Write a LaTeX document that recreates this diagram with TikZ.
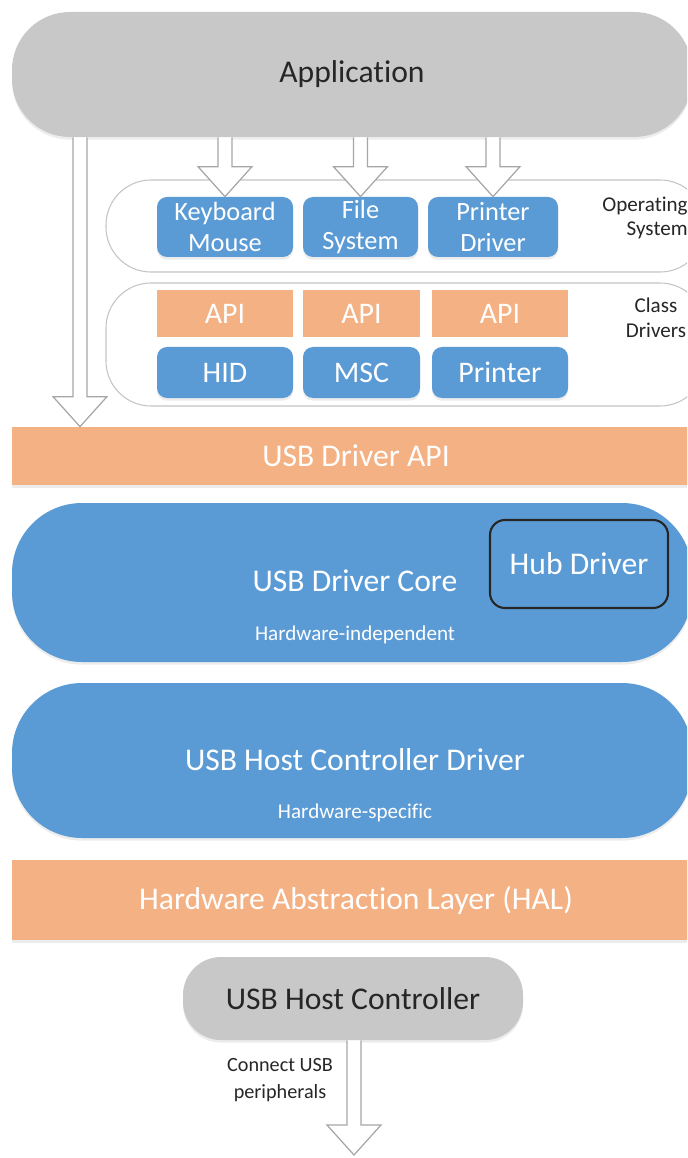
\documentclass[tikz,border=0pt]{standalone}
\usepackage{fontspec}
\setmainfont{Carlito}[Ligatures=NoCommon]
\usetikzlibrary{calc,shadows}
\definecolor{appgray}{HTML}{C8C8C8}
\definecolor{usbblue}{HTML}{5B9BD5}
\definecolor{usborange}{HTML}{F4B183}
\definecolor{rimgray}{HTML}{C4C4C4}
\newcommand{\px}{0.02cm}
% hollow block arrow from a shaft top (#1) down to a tip (#2)
\newcommand{\hollowarrow}[2]{%
  \draw[hollow] ($(#1)+(-7,0)$) -- ($(#2)+(-7,-30)$) -- ($(#2)+(-27,-30)$) -- (#2)
    -- ($(#2)+(27,-30)$) -- ($(#2)+(7,-30)$) -- ($(#1)+(7,0)$);}
\tikzset{
  soft/.style={drop shadow={opacity=0.15,shadow xshift=0pt,shadow yshift=-1.5pt}},
  graypill/.style={fill=appgray,rounded corners=#1*\px,soft,text=black!85,inner sep=0pt},
  bluepill/.style={fill=usbblue,rounded corners=#1*\px,soft,text=white,inner sep=0pt},
  orangebar/.style={fill=usborange,soft,text=white,inner sep=0pt,font=\fontsize{18}{20}\selectfont},
  shell/.style={fill=white,draw=rimgray,line width=0.6pt,rounded corners=45*\px,inner sep=0pt},
  bluebox/.style={fill=usbblue,rounded corners=10*\px,soft,text=white,inner sep=0pt,align=center},
  apibox/.style={fill=usborange,text=white,inner sep=0pt,font=\fontsize{17}{19}\selectfont},
  tag/.style={text=black!85,inner sep=0pt,font=\fontsize{12}{14}\selectfont},
  hollow/.style={fill=white,draw=gray!70,line width=0.7pt,line join=miter}
}
\begin{document}
\begin{tikzpicture}[x=\px,y=-\px]
\path[use as bounding box,clip] (0,0) rectangle (687,1158);

% application and operating system
\node[graypill=58, minimum width=680*\px, minimum height=125*\px,
  font=\fontsize{18}{20}\selectfont] (app) at (352,74.5) {Application};
\node[shell, minimum width=599*\px, minimum height=92*\px] (os) at (405.5,226) {};
\node[bluebox, minimum width=136*\px, minimum height=60*\px,
  font=\fontsize{15}{17.5}\selectfont] (kbd) at (225,227) {Keyboard\\Mouse};
\node[bluebox, minimum width=115*\px, minimum height=60*\px,
  font=\fontsize{15}{17.5}\selectfont] (fs) at (360.5,227) {File\\System};
\node[bluebox, minimum width=130*\px, minimum height=60*\px,
  font=\fontsize{15}{17.5}\selectfont] (prd) at (493,227) {Printer\\Driver};
\node[tag, anchor=east, align=right] (oslabel) at (688,218) {Operating\\System};

% class drivers
\node[shell, minimum width=599*\px, minimum height=123*\px] (cd) at (405.5,344.5) {};
\node[apibox, minimum width=136*\px, minimum height=47*\px] (api1) at (225,313.5) {API};
\node[apibox, minimum width=117*\px, minimum height=47*\px] (api2) at (361.5,313.5) {API};
\node[apibox, minimum width=136*\px, minimum height=47*\px] (api3) at (500,313.5) {API};
\node[bluebox, minimum width=136*\px, minimum height=51*\px,
  font=\fontsize{17}{19}\selectfont] (hid) at (225,372.5) {HID};
\node[bluebox, minimum width=117*\px, minimum height=51*\px,
  font=\fontsize{17}{19}\selectfont] (msc) at (361.5,372.5) {MSC};
\node[bluebox, minimum width=136*\px, minimum height=51*\px,
  font=\fontsize{17}{19}\selectfont] (prn) at (500,372.5) {Printer};
\node[tag, align=center] (cdlabel) at (656,318) {Class\\Drivers};

% usb stack
\node[orangebar, minimum width=688*\px, minimum height=58*\px] (usbapi) at (356,456) {USB Driver API};
\node[bluepill=70, minimum width=680*\px, minimum height=159*\px] (core) at (352,582.5) {};
\node[text=white, font=\fontsize{18}{20}\selectfont] (coretitle) at (355,581) {USB Driver Core};
\node[text=white, font=\fontsize{12}{14}\selectfont] (coresub) at (355,635) {Hardware-independent};
\node[fill=usbblue, draw=black!85, line width=1.2pt, rounded corners=15*\px, text=white,
  minimum width=178*\px, minimum height=88*\px, font=\fontsize{18}{20}\selectfont] (hub) at (579,564) {Hub Driver};
\node[bluepill=70, minimum width=680*\px, minimum height=155*\px] (hcd) at (352,760.5) {};
\node[text=white, font=\fontsize{18}{20}\selectfont] (hcdtitle) at (355,760) {USB Host Controller Driver};
\node[text=white, font=\fontsize{12}{14}\selectfont] (hcdsub) at (355,813) {Hardware-specific};
\node[orangebar, minimum width=688*\px, minimum height=80*\px] (hal) at (356,900) {Hardware Abstraction Layer (HAL)};
\node[graypill=38, minimum width=340*\px, minimum height=83*\px,
  font=\fontsize{18}{20}\selectfont] (hc) at (353,998.5) {USB Host Controller};

% arrows
\coordinate (bypass) at (80,0);
\coordinate (periph) at (354,1155);
\coordinate (a0) at (app.south -| bypass);
\coordinate (a1) at (app.south -| kbd.north);
\coordinate (a2) at (app.south -| fs.north);
\coordinate (a3) at (app.south -| prd.north);
\coordinate (a4) at (hc.south -| periph);
\hollowarrow{a0}{usbapi.north -| bypass}
\hollowarrow{a1}{kbd.north}
\hollowarrow{a2}{fs.north}
\hollowarrow{a3}{prd.north}
\hollowarrow{a4}{periph}
\node[tag, align=center, font=\fontsize{11.5}{15}\selectfont] (connect) at (280,1080) {Connect USB\\peripherals};
\end{tikzpicture}
\end{document}
